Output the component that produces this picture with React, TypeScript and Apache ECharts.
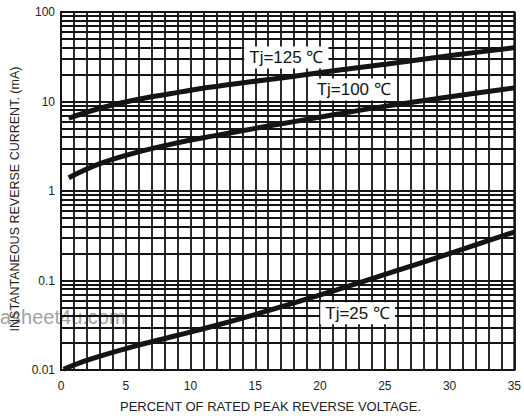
import React, { useEffect, useRef } from 'react';
import * as echarts from 'echarts';

// X axis: percent of rated peak reverse voltage
const X_MIN = 0;
const X_MAX = 35;
const X_STEP = 5;
// Y axis decades (log)
const Y_MIN = 0.01;
const Y_MAX = 100;
const MINOR_DECADES = [0.01, 0.1, 1, 10];
const MINOR_STEPS = [2, 3, 4, 5, 6, 7, 8, 9];

// Curves: [percent, mA]
const TJ125 = [
  [0.6, 6.5], [3, 8.4], [5.7, 10.4], [8.4, 12.2], [10.7, 13.9], [14.5, 16.5],
  [17.6, 18.8], [20.9, 21.9], [25.2, 26.3], [30.4, 33], [35, 40],
];
const TJ100 = [
  [0.6, 1.41], [3, 2.02], [5.7, 2.67], [8.7, 3.38], [11.8, 4.13], [14.9, 4.98],
  [18, 5.96], [21.4, 7.24], [25.2, 8.93], [29.9, 11.2], [35, 14.2],
];
const TJ25 = [
  [0.2, 0.0102], [2.1, 0.013], [5.7, 0.0185], [8.7, 0.0238], [11.8, 0.031],
  [14.9, 0.0413], [18, 0.0561], [21.4, 0.0798], [25.2, 0.119], [30.4, 0.209], [35, 0.348],
];

const LABEL_TEXTS = ['Tj=125 ℃', 'Tj=100 ℃', 'Tj=25 ℃'];
const LABEL_POS = [[17.4, 31], [22.6, 13.6], [22.9, 0.043]];

const X_TITLE = 'PERCENT OF RATED PEAK REVERSE VOLTAGE.';
const Y_TITLE = 'INSTANTANEOUS REVERSE CURRENT. (mA)';
const WATERMARK = 'asheet4u.com';

const FONT = 'Liberation Sans, Arial, Helvetica, sans-serif';
const INK = '#141414';

export default function App() {
  const ref = useRef<HTMLDivElement>(null);
  useEffect(() => {
    if (!ref.current) return;
    const chart = echarts.init(ref.current, undefined, { renderer: 'svg' });
    const gridLine = { show: true, lineStyle: { color: INK, width: 1.8, type: 'solid' as const } };
    const minorValues: number[] = [];
    MINOR_DECADES.forEach((d) => MINOR_STEPS.forEach((s) => minorValues.push(+(d * s).toPrecision(3))));

    const curve = (name: string, data: number[][], idx: number) => ({
      name,
      type: 'line',
      data,
      smooth: 0.4,
      symbol: 'none',
      z: 3,
      lineStyle: { color: INK, width: 5 },
      markPoint: {
        symbol: 'rect',
        symbolSize: 0,
        silent: true,
        data: [
          {
            coord: LABEL_POS[idx],
            label: {
              show: true,
              position: 'inside',
              formatter: LABEL_TEXTS[idx],
              backgroundColor: '#ffffff',
              padding: [3, 5, 2, 5],
              color: INK,
              fontSize: 17,
              fontFamily: FONT,
            },
          },
        ],
      },
    });

    chart.setOption({
      animation: false,
      backgroundColor: '#ffffff',
      grid: {
        left: 61,
        right: 7,
        top: 12,
        bottom: 46,
        show: true,
        borderColor: INK,
        borderWidth: 2,
        backgroundColor: 'transparent',
      },
      xAxis: {
        type: 'value',
        min: X_MIN,
        max: X_MAX,
        interval: X_STEP,
        axisLine: { show: true, lineStyle: { color: INK, width: 2 } },
        axisTick: { show: false },
        axisLabel: { color: '#222', fontSize: 12, fontFamily: FONT, margin: 10 },
        splitLine: gridLine,
        minorTick: { show: false, splitNumber: 5 },
        minorSplitLine: gridLine,
      },
      yAxis: {
        type: 'log',
        logBase: 10,
        min: Y_MIN,
        max: Y_MAX,
        axisLine: { show: true, lineStyle: { color: INK, width: 2 } },
        axisTick: { show: false },
        axisLabel: {
          color: '#222',
          fontSize: 12,
          fontFamily: FONT,
          margin: 6,
          formatter: (v: number) => String(+v.toPrecision(3)),
        },
        splitLine: gridLine,
      },
      graphic: [
        {
          type: 'text',
          left: 120,
          top: 400,
          style: { text: X_TITLE, fill: '#222', font: `13px ${FONT}` },
        },
        {
          type: 'text',
          x: 15,
          y: 199,
          rotation: Math.PI / 2,
          style: {
            text: Y_TITLE,
            fill: '#222',
            font: `12.5px ${FONT}`,
            align: 'center',
            verticalAlign: 'middle',
          },
        },
        {
          type: 'text',
          x: 0,
          y: 317,
          z: -10,
          silent: true,
          style: {
            text: WATERMARK,
            fill: '#a2a2a2',
            font: `20px ${FONT}`,
            verticalAlign: 'middle',
          },
        },
      ],
      series: [
        {
          name: 'grid-minor',
          type: 'line',
          data: [],
          z: 1,
          silent: true,
          markLine: {
            silent: true,
            symbol: 'none',
            label: { show: false },
            lineStyle: { color: INK, width: 1.8, type: 'solid' },
            data: minorValues.map((v) => ({ yAxis: v })),
          },
        },
        curve('Tj=125', TJ125, 0),
        curve('Tj=100', TJ100, 1),
        curve('Tj=25', TJ25, 2),
      ],
    });
    return () => chart.dispose();
  }, []);
  return (
    <div
      ref={ref}
      style={{ position: 'fixed', left: 0, top: 0, width: 524, height: 416, background: '#fff' }}
    />
  );
}
